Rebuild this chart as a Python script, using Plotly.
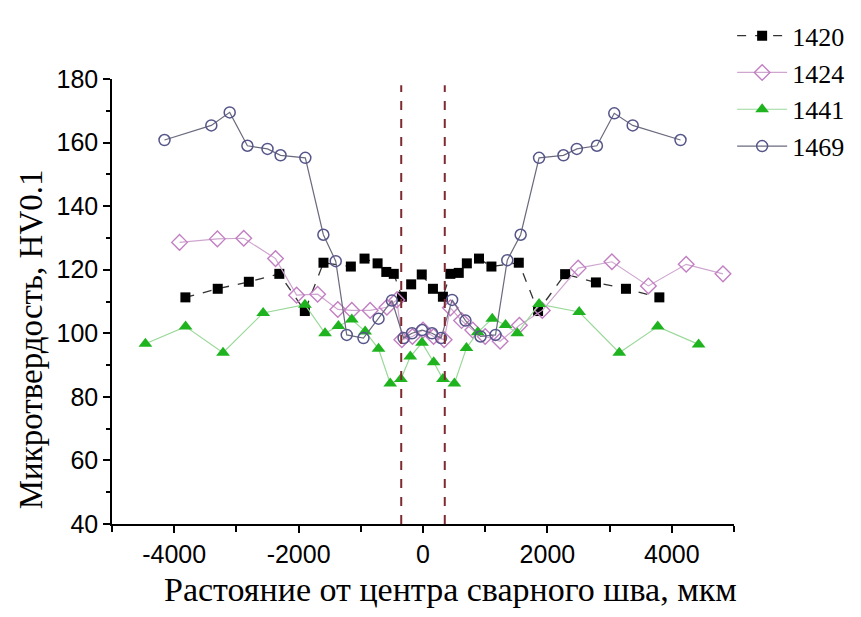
import plotly.graph_objects as go

# ---- data ----
x_1420 = [-3820, -3300, -2800, -2310, -1900, -1600, -1160, -940, -730, -590, -470, -339, -190, -20,
          160, 320, 440, 575, 705, 900, 1100, 1540, 1850, 2285, 2780, 3263, 3800]
y_1420 = [111.3, 114, 116.2, 118.7, 107, 122.2, 121, 123.5, 122, 119.3, 118.7, 111.5, 115.4, 118.5,
          114, 111.5, 118.7, 119, 122, 123.5, 121, 122.2, 107, 118.6, 116, 114, 111.3]

x_1424 = [-3914, -3306, -2882, -2371, -2032, -1694, -1370, -1145, -850, -580, -420, -340, -170, 0,
          170, 340, 440, 620, 800, 1000, 1240, 1550, 1919, 2495, 3037, 3624, 4231, 4823]
y_1424 = [128.6, 129.7, 129.9, 123.5, 112, 112.3, 107.5, 107.2, 107.2, 108.2, 110.5, 98, 99, 101,
          99, 98, 108, 104, 101, 99, 97.5, 102.5, 107.2, 120.5, 122.5, 114.9, 121.7, 118.7]

x_1441 = [-4463, -3817, -3215, -2570, -1898, -1575, -1360, -1145, -930, -715, -527, -355, -204, -16,
          172, 320, 505, 699, 880, 1113, 1327, 1516, 1866, 2511, 3156, 3774, 4431]
y_1441 = [96.7, 102.1, 93.9, 106.4, 109, 100, 102.3, 104.3, 100.6, 95.1, 84.2, 85.6, 92.7, 97,
          90.9, 85.6, 84.2, 95.4, 100.3, 104.6, 102.6, 100, 109.2, 106.7, 93.9, 102.1, 96.5]

x_1469 = [-4156, -3403, -3108, -2823, -2500, -2290, -1892, -1602, -1403, -1226, -957, -715, -500,
          -312, -177, -16, 145, 290, 468, 683, 925, 1166, 1355, 1570, 1866, 2258, 2473, 2796, 3075,
          3371, 4140]
y_1469 = [160.8, 165.4, 169.5, 159, 158, 156, 155.2, 131, 122.7, 99.5, 98.5, 104.6, 110.3,
          98.5, 100, 101, 100, 98.5, 110.5, 104, 99, 99.5, 123, 131, 155.2, 156, 158, 159, 169.2,
          165.4, 160.8]

weld_bounds = [-350, 350]

x_ticks = [-4000, -2000, 0, 2000, 4000]
y_ticks = [40, 60, 80, 100, 120, 140, 160, 180]

x_title = "Растояние от центра сварного шва, мкм"
y_title = "Микротвердость, HV0.1"

fig = go.Figure()

fig.add_trace(go.Scatter(
    x=x_1420, y=y_1420, name="1420", mode="lines+markers", legendgroup="a",
    line=dict(color="#333333", width=1.3, dash="dash"),
    marker=dict(symbol="square", size=10, color="black", line=dict(width=0))))
fig.add_trace(go.Scatter(
    x=x_1424, y=y_1424, name="1424", mode="lines+markers", legendgroup="b",
    line=dict(color="#cfa6cf", width=1.2),
    marker=dict(symbol="diamond-open", size=12, color="#c27fc2", line=dict(width=1.4))))
fig.add_trace(go.Scatter(
    x=x_1441, y=y_1441, name="1441", mode="lines+markers", legendgroup="c",
    line=dict(color="#9ad89a", width=1.2),
    marker=dict(symbol="triangle-up", size=12, color="#1fb41f", line=dict(width=0))))
fig.add_trace(go.Scatter(
    x=x_1469, y=y_1469, name="1469", mode="lines+markers", legendgroup="d",
    line=dict(color="#6a6a7e", width=1.2),
    marker=dict(symbol="circle-open", size=11, color="#55558a", line=dict(width=1.5))))

for xb in weld_bounds:
    fig.add_shape(type="line", xref="x", yref="y", x0=xb, x1=xb, y0=40, y1=178,
                  line=dict(color="#7e2a30", width=2, dash="dash"))

fig.add_annotation(text=x_title, xref="paper", yref="paper", x=0.544, y=-0.148,
                   xanchor="center", yanchor="middle", showarrow=False,
                   font=dict(family="Liberation Serif", size=34, color="black"))
fig.add_annotation(text=y_title, xref="paper", yref="paper", x=-0.131, y=0.414,
                   xanchor="center", yanchor="middle", showarrow=False, textangle=-90,
                   font=dict(family="Liberation Serif", size=33, color="black"))

fig.update_layout(
    width=861, height=617,
    margin=dict(l=112, r=124, t=68, b=93),
    paper_bgcolor="white", plot_bgcolor="white",
    showlegend=True,
    legend=dict(x=0.997, y=1.15, xanchor="left", yanchor="top",
                font=dict(family="Liberation Serif", size=26, color="black"),
                tracegroupgap=0, itemwidth=50, bgcolor="rgba(0,0,0,0)"),
    font=dict(family="Liberation Sans", color="black"),
)

fig.update_xaxes(
    range=[-5000, 5000], tickvals=x_ticks, ticktext=[str(v) for v in x_ticks],
    showgrid=False, zeroline=False, showline=True, linecolor="black", linewidth=1.5,
    ticks="outside", ticklen=7, tickwidth=1.5, tickcolor="black",
    minor=dict(dtick=1000, tick0=0, ticks="outside", ticklen=6, tickwidth=1.5, tickcolor="black"),
    tickfont=dict(family="Liberation Sans", size=25, color="black"),
    automargin=False,
)
fig.update_yaxes(
    range=[40, 180], tickvals=y_ticks, ticktext=[str(v) for v in y_ticks],
    showgrid=False, zeroline=False, showline=True, linecolor="black", linewidth=1.5,
    ticks="outside", ticklen=7, tickwidth=1.5, tickcolor="black",
    minor=dict(dtick=10, tick0=0, ticks="outside", ticklen=4, tickwidth=1.5, tickcolor="black"),
    tickfont=dict(family="Liberation Sans", size=25, color="black"),
    automargin=False,
)

fig.write_html("out.html")
